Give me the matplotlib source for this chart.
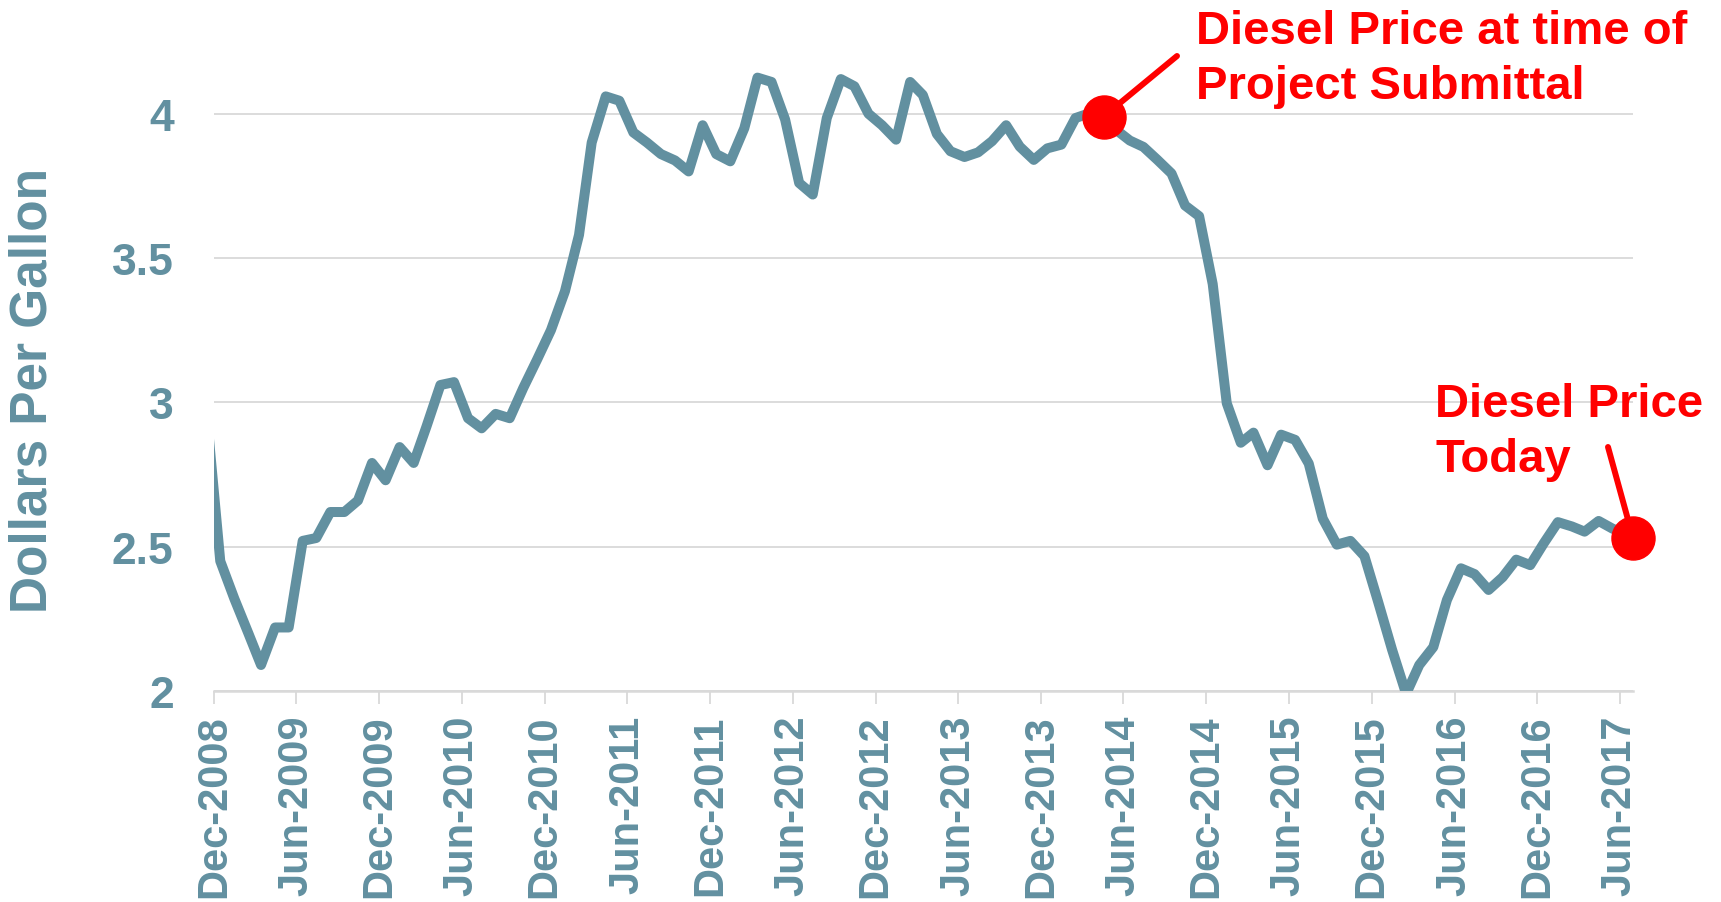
import matplotlib
matplotlib.use("Agg")
import matplotlib.pyplot as plt
import matplotlib.dates as mdates
import pandas as pd

# monthly average diesel price, Nov-2008 .. May-2017 (dollars per gallon)
prices = [2.96, 2.45,
          2.32, 2.20, 2.09, 2.22, 2.22, 2.52, 2.53, 2.62, 2.62, 2.66, 2.79, 2.73,
          2.845, 2.79, 2.915, 3.06, 3.07, 2.945, 2.91, 2.96, 2.945, 3.05, 3.15, 3.25,
          3.385, 3.58, 3.90, 4.06, 4.045, 3.935, 3.90, 3.86, 3.838, 3.80, 3.96, 3.86,
          3.835, 3.95, 4.125, 4.11, 3.98, 3.76, 3.72, 3.985, 4.12, 4.095, 4.00, 3.96,
          3.91, 4.11, 4.065, 3.93, 3.87, 3.85, 3.866, 3.905, 3.96, 3.886, 3.84, 3.88,
          3.893, 3.985, 4.00, 3.965, 3.945, 3.907, 3.885, 3.84, 3.793, 3.682, 3.645, 3.41,
          2.997, 2.86, 2.895, 2.782, 2.888, 2.87, 2.788, 2.597, 2.507, 2.52, 2.467, 2.31,
          2.143, 1.99, 2.09, 2.152, 2.315, 2.425, 2.405, 2.35, 2.394, 2.455, 2.436, 2.512,
          2.585, 2.57, 2.552, 2.589, 2.563]
first_month = "2008-11-01"

# highlighted readings
submittal_date = "2014-04-18"
submittal_price = 3.99
today_date = "2017-06-30"
today_price = 2.53

axis_start = "2008-12-01"
tick_dates = pd.date_range("2008-12-01", "2017-06-01", freq="6MS")
y_ticks = [2, 2.5, 3, 3.5, 4]

teal = "#6290A0"
red = "#FF0000"
grid_grey = "#D9D9D9"

dates = list(pd.date_range(first_month, periods=len(prices), freq="MS") + pd.Timedelta(days=14))
dates.append(pd.Timestamp(today_date))
values = prices + [today_price]

plt.rcParams["font.family"] = ["Liberation Sans", "DejaVu Sans"]
plt.rcParams["font.weight"] = "bold"

fig = plt.figure(figsize=(17.21, 9.03), dpi=100)
ax = fig.add_axes([0.1243, 0.2337, 0.8246, 0.7032])

ax.plot(dates, values, color=teal, linewidth=7.2, solid_joinstyle="round", zorder=3)

ax.set_xlim(pd.Timestamp(axis_start), pd.Timestamp(today_date))
ax.set_ylim(2, 4.2)

ax.set_yticks(y_ticks)
ax.set_yticklabels(["2", "2.5", "3", "3.5", "4"])
ax.set_xticks(tick_dates)
ax.xaxis.set_major_formatter(mdates.DateFormatter("%b-%Y"))

ax.grid(axis="y", color=grid_grey, linewidth=1.3, zorder=0)
for side in ["top", "right", "left"]:
    ax.spines[side].set_visible(False)
ax.spines["bottom"].set_color(grid_grey)
ax.spines["bottom"].set_linewidth(1.8)

ax.tick_params(axis="y", length=0, pad=29, labelsize=32, labelcolor=teal)
ax.tick_params(axis="x", length=9, width=1.3, color=grid_grey, pad=8,
               labelsize=30, labelcolor=teal, labelrotation=90)

fig.text(33 / 1721, 1 - 390 / 903, "Dollars Per Gallon", rotation=90,
         ha="center", va="center", fontsize=37, fontweight="bold", color=teal)

# red markers and callouts
ax.plot(pd.Timestamp(submittal_date), submittal_price, "o", color=red,
        markersize=31, clip_on=False, zorder=5)
ax.plot(pd.Timestamp(today_date), today_price, "o", color=red,
        markersize=31, clip_on=False, zorder=5)

ax.annotate("", xy=(pd.Timestamp(submittal_date), submittal_price),
            xytext=(1177 / 1721, 1 - 57 / 903), textcoords="figure fraction",
            arrowprops=dict(arrowstyle="-", color=red, linewidth=4.3,
                            shrinkA=0, shrinkB=10), zorder=4)
ax.annotate("", xy=(pd.Timestamp(today_date), today_price),
            xytext=(1608 / 1721, 1 - 448 / 903), textcoords="figure fraction",
            arrowprops=dict(arrowstyle="-", color=red, linewidth=4.3,
                            shrinkA=0, shrinkB=10), zorder=4)

fig.text(1196 / 1721, 1 - 10 / 903, "Diesel Price at time of\nProject Submittal",
         ha="left", va="top", fontsize=34, fontweight="bold", color=red,
         linespacing=1.32)
fig.text(1435 / 1721, 1 - 383 / 903, "Diesel Price\nToday",
         ha="left", va="top", fontsize=34, fontweight="bold", color=red,
         linespacing=1.32)

fig.savefig("out.png", dpi=100)
